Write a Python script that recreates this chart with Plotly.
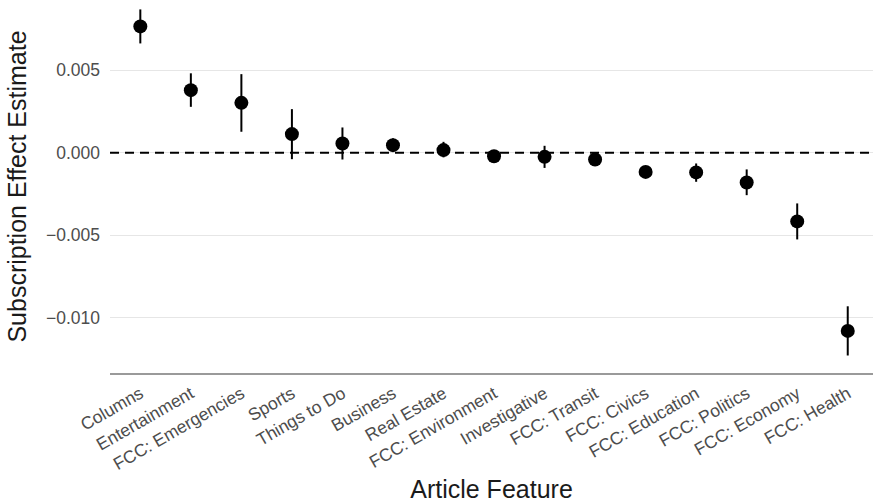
import plotly.graph_objects as go

categories = ["Columns", "Entertainment", "FCC: Emergencies", "Sports", "Things to Do",
              "Business", "Real Estate", "FCC: Environment", "Investigative", "FCC: Transit",
              "FCC: Civics", "FCC: Education", "FCC: Politics", "FCC: Economy", "FCC: Health"]
estimate = [0.00765, 0.00379, 0.00302, 0.00113, 0.00056,
            0.00046, 0.00016, -0.00021, -0.00025, -0.00041,
            -0.00116, -0.00119, -0.00180, -0.00416, -0.01079]
ci_low = [0.00662, 0.00278, 0.00127, -0.00039, -0.00041,
          0.00005, -0.00028, -0.00050, -0.00092, -0.00070,
          -0.00146, -0.00176, -0.00257, -0.00525, -0.01228]
ci_high = [0.00868, 0.00481, 0.00476, 0.00264, 0.00153,
           0.00087, 0.00066, 0.00008, 0.00042, -0.00012,
           -0.00086, -0.00065, -0.00101, -0.00307, -0.00930]
y_ticks = [-0.010, -0.005, 0.000, 0.005]

err_plus = [h - e for h, e in zip(ci_high, estimate)]
err_minus = [e - l for e, l in zip(estimate, ci_low)]

FONT = "Liberation Sans, Arial, sans-serif"

fig = go.Figure()
fig.add_trace(go.Scatter(
    x=categories, y=estimate, mode="markers",
    marker=dict(color="black", size=14),
    error_y=dict(type="data", symmetric=False, array=err_plus, arrayminus=err_minus,
                 color="black", thickness=2, width=0),
    showlegend=False,
))
fig.add_hline(y=0, line=dict(color="black", width=2, dash="9px,6px"), layer="above")

fig.update_layout(
    width=873, height=503,
    margin=dict(l=110, r=0, t=0, b=130),
    paper_bgcolor="white", plot_bgcolor="white",
    font=dict(family=FONT, color="#4d4d4d", size=17),
    xaxis=dict(
        type="category", range=[-0.6, 14.5], automargin=False,
        showgrid=False, zeroline=False,
        showline=True, linecolor="#9a9a9a", linewidth=1.5,
        tickangle=-30, ticks="", ticklabelstandoff=2,
        tickfont=dict(size=17.5, color="#4d4d4d"),
        title=dict(text="Article Feature", font=dict(size=25, color="#1a1a1a"), standoff=17),
    ),
    yaxis=dict(
        range=[-0.01334, 0.00925], automargin=False,
        tickvals=y_ticks, tickformat=".3f",
        showgrid=True, gridcolor="#e6e6e6", gridwidth=1,
        zeroline=False, showline=False, ticks="", ticklabelstandoff=9,
        tickfont=dict(size=17.5, color="#4d4d4d"),
        title=dict(text="Subscription Effect Estimate", font=dict(size=25, color="#1a1a1a"), standoff=12),
    ),
)

fig.write_html("out.html")
